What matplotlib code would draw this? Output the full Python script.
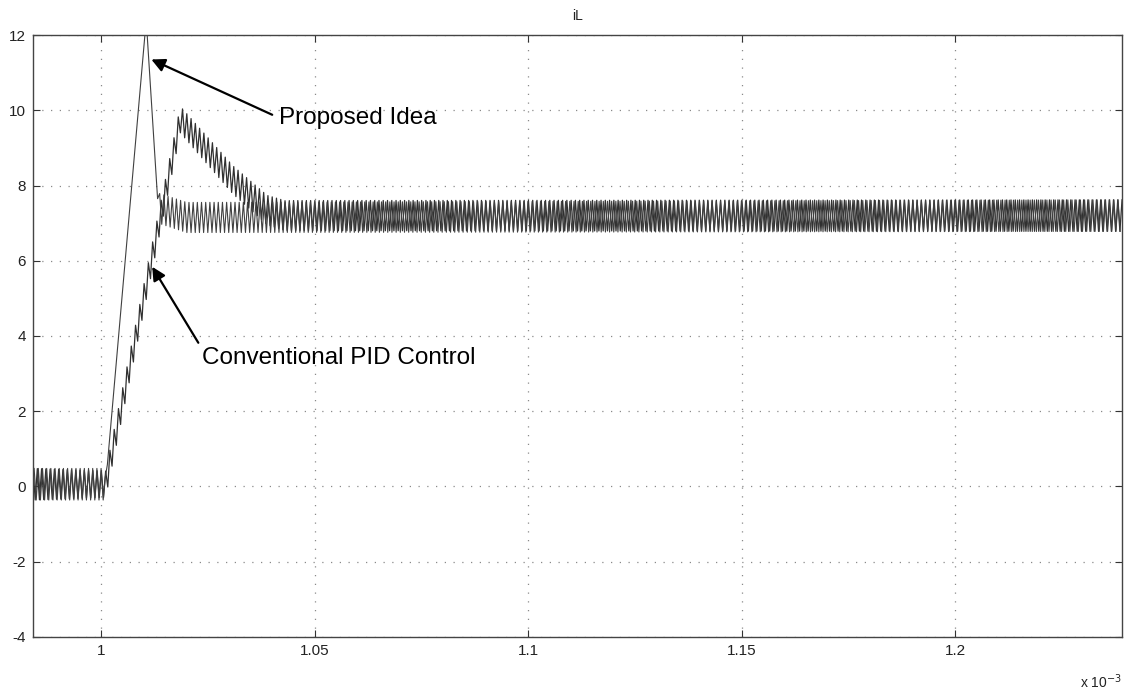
import numpy as np
import matplotlib
matplotlib.use("Agg")
import matplotlib.pyplot as plt

plt.rcParams['font.family'] = ['Liberation Sans', 'DejaVu Sans']
plt.rcParams['axes.unicode_minus'] = False

# time axis in units of 1e-3 s
T_START = 0.984
T_END = 1.239

# average inductor current (time, value)
conv_t = [0.984, 1.001, 1.0185, 1.0231, 1.0308, 1.0348, 1.0388, 1.043, 1.239]
conv_v = [0.06, 0.06, 9.75, 9.15, 8.15, 7.75, 7.35, 7.2, 7.2]
prop_t = [0.984, 1.001, 1.0105, 1.0133, 1.02, 1.239]
prop_v = [0.06, 0.06, 12.4, 7.4, 7.15, 7.2]

# switching ripple half-amplitude
conv_amp_t = [0.984, 1.001, 1.0185, 1.045, 1.239]
conv_amp_v = [0.42, 0.35, 0.35, 0.4, 0.42]
prop_amp_t = [0.984, 1.0008, 1.001, 1.0133, 1.0136, 1.239]
prop_amp_v = [0.42, 0.42, 0.0, 0.0, 0.4, 0.42]

# switching period (about 1 us) for each trace
conv_period = 0.00100
prop_period = 0.00098

ticks_x = [1.0, 1.05, 1.1, 1.15, 1.2]
ticks_x_labels = ['1', '1.05', '1.1', '1.15', '1.2']
ticks_y = [-4, -2, 0, 2, 4, 6, 8, 10, 12]


def ripple_trace(key_t, key_v, amp_t, amp_v, period, phase):
    # triangle ripple on top of the average curve: one vertex every half period
    t = np.arange(T_START + phase, T_END, period / 2)
    sign = np.where(np.arange(t.size) % 2 == 0, 1.0, -1.0)
    return t, np.interp(t, key_t, key_v) + sign * np.interp(t, amp_t, amp_v)


fig = plt.figure(figsize=(11.32, 6.96), dpi=100)
ax = fig.add_axes([0.0292, 0.0848, 0.9620, 0.8649])

t1, y1 = ripple_trace(conv_t, conv_v, conv_amp_t, conv_amp_v, conv_period, 0.0)
t2, y2 = ripple_trace(prop_t, prop_v, prop_amp_t, prop_amp_v, prop_period, 0.00025)
ax.plot(t1, y1, color='#303030', lw=0.9)
ax.plot(t2, y2, color='#404040', lw=0.8)

ax.set_xlim(T_START, T_END)
ax.set_ylim(-4, 12)
ax.set_xticks(ticks_x)
ax.set_xticklabels(ticks_x_labels)
ax.set_yticks(ticks_y)
ax.tick_params(direction='in', top=True, right=True, length=5, width=0.8,
               labelsize=11, color='#333333', labelcolor='#222222', pad=5)
for s in ax.spines.values():
    s.set_color('#444444')
    s.set_linewidth(1.0)
ax.grid(True, linestyle=(0, (1, 6)), color='#8a8a8a', linewidth=0.9)
ax.set_title('iL', fontsize=10, color='#222222', pad=11)
ax.text(1.0, -0.075, r'x 10$^{-3}$', transform=ax.transAxes, fontsize=10,
        ha='right', va='center', color='#222222')

# annotations
arrow = dict(arrowstyle='-|>', color='black', lw=1.6, mutation_scale=20,
             shrinkA=0, shrinkB=0)
ax.annotate('', xy=(1.0117, 11.35), xytext=(1.0400, 9.88), arrowprops=arrow)
ax.text(1.0415, 9.8, 'Proposed Idea', fontsize=17.5, va='center', ha='left')
ax.annotate('', xy=(1.0119, 5.84), xytext=(1.0227, 3.82), arrowprops=arrow)
ax.text(1.0235, 3.42, 'Conventional PID Control', fontsize=17.5,
        va='center', ha='left')

fig.savefig('out.png', dpi=100)
